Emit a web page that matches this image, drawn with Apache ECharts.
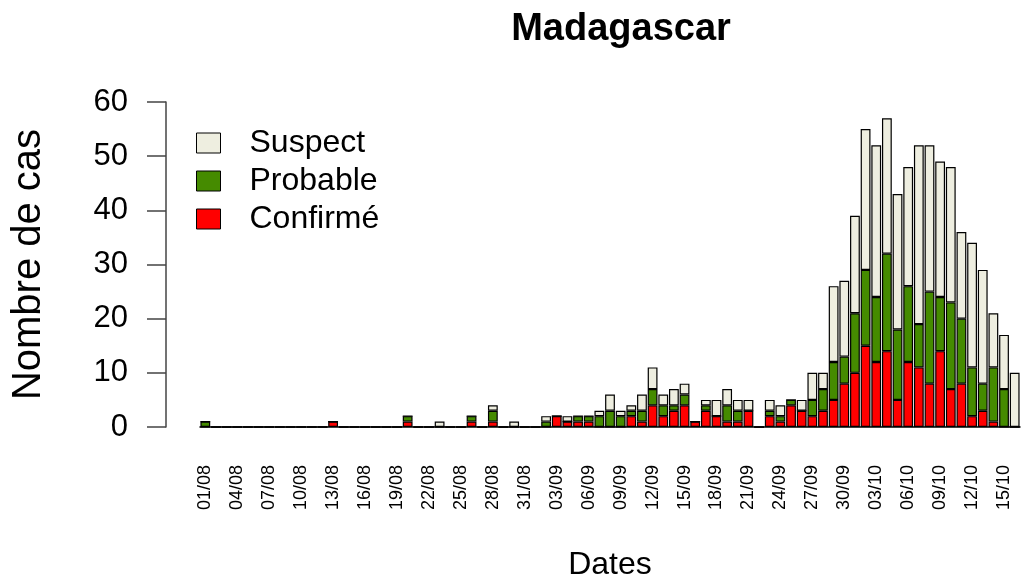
<!DOCTYPE html>
<html>
<head>
<meta charset="utf-8">
<script src="https://cdn.jsdelivr.net/npm/echarts@6/dist/echarts.min.js"></script>
<style>
  html, body { margin: 0; padding: 0; background: #fff; }
  #main { width: 1021px; height: 579px; }
</style>
</head>
<body>
<div id="main"></div>
<script>
var dates = [
  '01/08','02/08','03/08','04/08','05/08','06/08','07/08','08/08','09/08','10/08',
  '11/08','12/08','13/08','14/08','15/08','16/08','17/08','18/08','19/08','20/08',
  '21/08','22/08','23/08','24/08','25/08','26/08','27/08','28/08','29/08','30/08',
  '31/08','01/09','02/09','03/09','04/09','05/09','06/09','07/09','08/09','09/09',
  '10/09','11/09','12/09','13/09','14/09','15/09','16/09','17/09','18/09','19/09',
  '20/09','21/09','22/09','23/09','24/09','25/09','26/09','27/09','28/09','29/09',
  '30/09','01/10','02/10','03/10','04/10','05/10','06/10','07/10','08/10','09/10',
  '10/10','11/10','12/10','13/10','14/10','15/10','16/10'
];
// cas confirmés
var confirme = [
  0,0,0,0,0,0,0,0,0,0, 0,0,1,0,0,0,0,0,0,1,
  0,0,0,0,0,1,0,1,0,0, 0,0,0,2,1,1,1,0,0,0,
  2,1,4,2,3,4,1,3,2,1, 1,3,0,2,1,4,3,2,3,5,
  8,10,15,12,14,5,12,11,8,14, 7,8,2,3,1,0,0
];
// cas probables
var probable = [
  1,0,0,0,0,0,0,0,0,0, 0,0,0,0,0,0,0,0,0,1,
  0,0,0,0,0,1,0,2,0,0, 0,0,1,0,0,1,1,2,3,2,
  1,2,3,2,1,2,0,1,0,3, 2,0,0,1,1,1,0,3,4,7,
  5,11,14,12,18,13,14,8,17,10, 16,12,9,5,10,7,0
];
// cas suspects
var suspect = [
  0,0,0,0,0,0,0,0,0,0, 0,0,0,0,0,0,0,0,0,0,
  0,0,1,0,0,0,0,1,0,1, 0,0,1,0,1,0,0,1,3,1,
  1,3,4,2,3,2,0,1,3,3, 2,2,0,2,2,0,2,5,3,14,
  14,18,26,28,25,25,22,33,27,25, 25,16,23,21,10,10,10
];
var yTicks = [0, 10, 20, 30, 40, 50, 60];

var FONT = 'Liberation Sans';
var myChart = echarts.init(document.getElementById('main'));

var barBase = {
  type: 'bar',
  stack: 'cas',
  barCategoryGap: '8%',
  animation: false
};

var option = {
  backgroundColor: '#fff',
  title: {
    text: 'Madagascar',
    left: 616,
    textAlign: 'center',
    top: 6,
    textStyle: { fontFamily: FONT, fontSize: 38, fontWeight: 'bold', color: '#000' }
  },
  legend: {
    orient: 'vertical',
    left: 191,
    top: 122,
    itemWidth: 24,
    itemHeight: 20,
    itemGap: 6,
    icon: 'rect',
    data: ['Suspect', 'Probable', 'Confirmé'],
    itemStyle: { borderColor: '#000', borderWidth: 1 },
    textStyle: { fontFamily: FONT, fontSize: 32, lineHeight: 32, color: '#000', padding: [0, 0, 0, 24] }
  },
  grid: { left: 200, right: 1, top: 102, bottom: 152, outerBoundsMode: 'none' },
  xAxis: {
    type: 'category',
    data: dates,
    name: 'Dates',
    nameLocation: 'middle',
    nameGap: 122,
    nameTextStyle: { fontFamily: FONT, fontSize: 32, color: '#000' },
    axisLine: { show: true, lineStyle: { color: '#000', width: 1.5 } },
    axisTick: { show: false },
    axisLabel: {
      interval: 2,
      rotate: 90,
      margin: 38,
      fontFamily: FONT,
      fontSize: 18,
      color: '#000'
    }
  },
  yAxis: {
    type: 'value',
    min: yTicks[0],
    max: yTicks[yTicks.length - 1],
    interval: 10,
    offset: 34,
    name: 'Nombre de cas',
    nameLocation: 'middle',
    nameRotate: 90,
    nameGap: 117,
    nameTextStyle: { fontFamily: FONT, fontSize: 40, color: '#000' },
    splitLine: { show: false },
    axisLine: { show: true, lineStyle: { color: '#444', width: 1.5 } },
    axisTick: { show: true, inside: false, length: 19, lineStyle: { color: '#444', width: 1.5 } },
    axisLabel: { margin: 38, fontFamily: FONT, fontSize: 31, color: '#000' }
  },
  series: [
    Object.assign({}, barBase, {
      name: 'Confirmé',
      data: confirme,
      itemStyle: { color: '#FF0000', borderColor: '#000', borderWidth: 1.2 }
    }),
    Object.assign({}, barBase, {
      name: 'Probable',
      data: probable,
      itemStyle: { color: '#458B00', borderColor: '#000', borderWidth: 1.2 }
    }),
    Object.assign({}, barBase, {
      name: 'Suspect',
      data: suspect,
      itemStyle: { color: '#EEEEE0', borderColor: '#000', borderWidth: 1.2 }
    })
  ]
};
myChart.setOption(option);
</script>
</body>
</html>
